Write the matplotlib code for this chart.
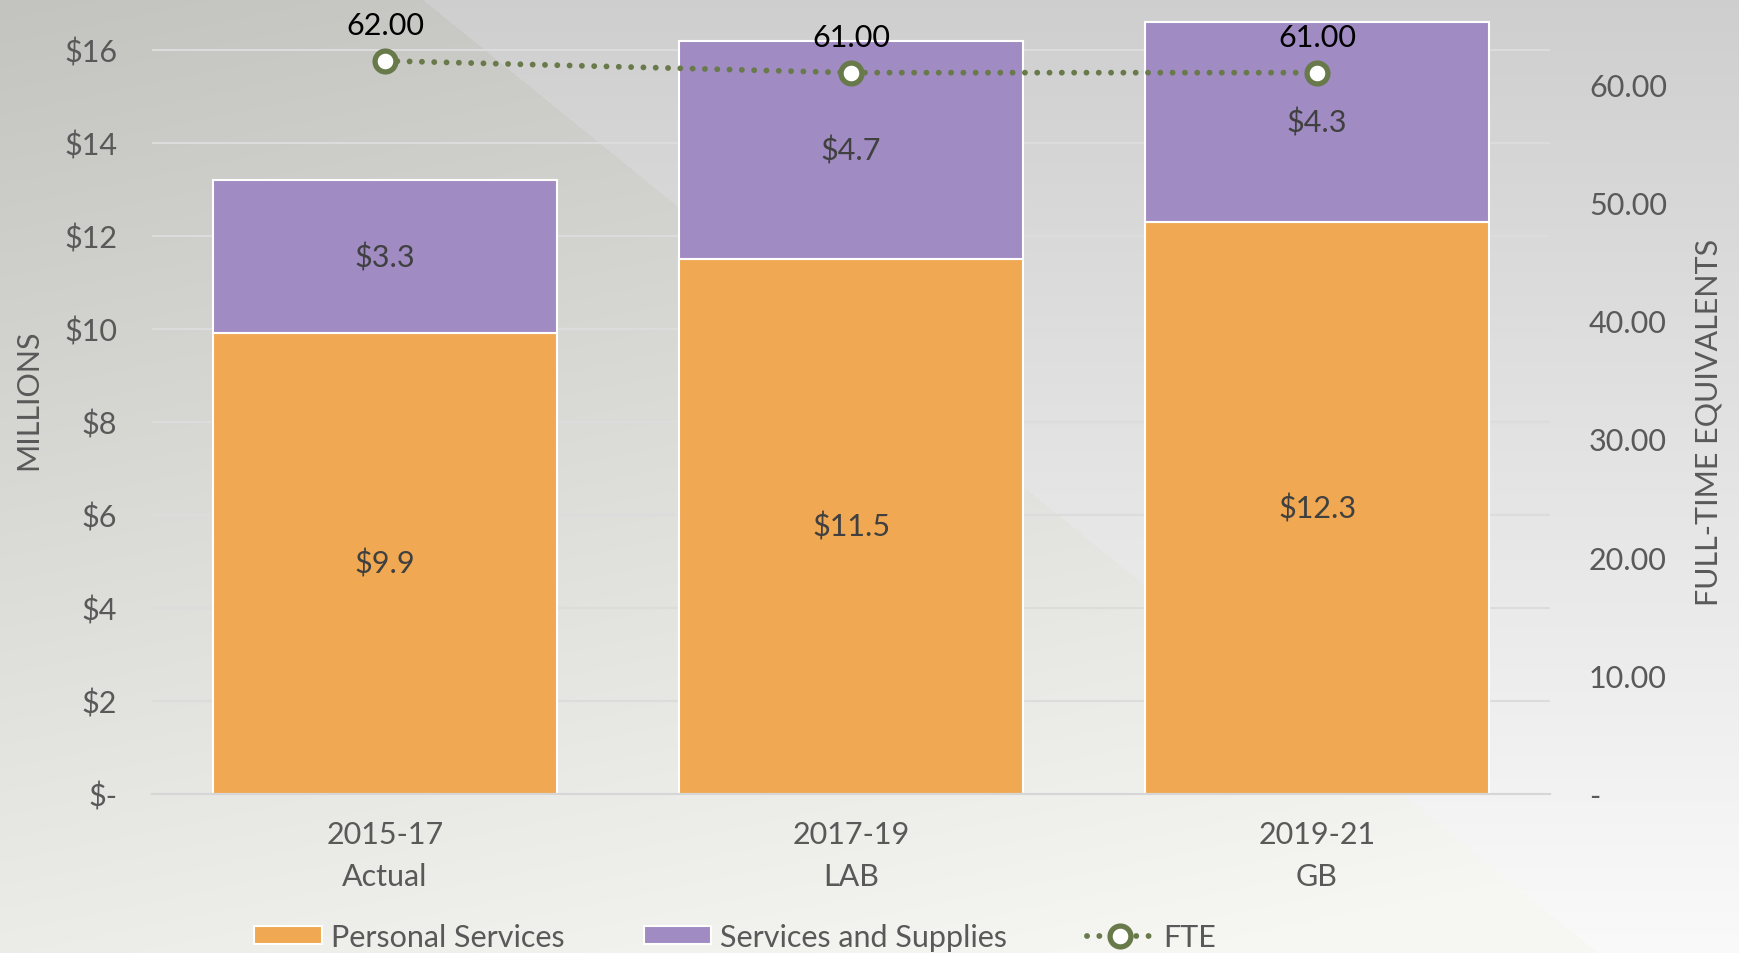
import numpy as np
import matplotlib.pyplot as plt
from matplotlib.ticker import FuncFormatter

# data
categories = ['2015-17\nActual', '2017-19\nLAB', '2019-21\nGB']
personal_services = [9.9, 11.5, 12.3]
services_supplies = [3.3, 4.7, 4.3]
fte = [62.00, 61.00, 61.00]

plt.rcParams['font.family'] = ['Lato', 'DejaVu Sans']
fs = 22

W, H = 1740, 954
fig = plt.figure(figsize=(W / 100, H / 100), dpi=100)

# slide-like background: two grey gradients split by a diagonal
bg = fig.add_axes([0, 0, 1, 1], zorder=-5)
yy, xx = np.mgrid[0:H, 0:W]
left_part = 0.765 + 0.20 * np.clip(0.8 * yy / H + 0.3 * xx / W, 0, 1)
right_part = 0.81 + 0.17 * yy / H
right_of_line = xx > 422 + yy * (1176 / 954)
val = np.where(right_of_line, right_part, left_part)
img = np.dstack([val, val, val * np.where(right_of_line, 1.0, 0.985)])
bg.imshow(np.clip(img, 0, 1), aspect='auto', extent=(0, 1, 0, 1), origin='upper')
bg.set_axis_off()

ax = fig.add_axes([152 / W, 1 - 794.5 / H, (1550 - 152) / W, (794.5 + 32.7) / H])
ax.set_facecolor('none')
x = np.arange(len(categories))
b1 = ax.bar(x, personal_services, 0.74, color='#f0a952', edgecolor='white', linewidth=1.5,
            label='Personal Services', zorder=2)
b2 = ax.bar(x, services_supplies, 0.74, bottom=personal_services, color='#a08bc2',
            edgecolor='white', linewidth=1.5, label='Services and Supplies', zorder=2)
ax.bar_label(b1, fmt='${:.1f}', label_type='center', fontsize=fs, color='#404040')
ax.bar_label(b2, fmt='${:.1f}', label_type='center', fontsize=fs, color='#404040')

ax.set_xlim(-0.5, 2.5)
ax.set_ylim(0, 17.8)
ax.set_yticks(np.arange(0, 17, 2))
ax.yaxis.set_major_formatter(FuncFormatter(lambda v, p: '$-' if v == 0 else '${:.0f}'.format(v)))
ax.set_xticks(x)
ax.set_xticklabels(categories, linespacing=1.6)
ax.tick_params(axis='both', length=0, labelsize=fs, labelcolor='#595959')
ax.tick_params(axis='y', pad=25)
ax.tick_params(axis='x', pad=19)
ax.grid(axis='y', color='#dcdcdc', linewidth=1.5, zorder=0)
ax.set_axisbelow(True)
for s in ['top', 'right', 'left']:
    ax.spines[s].set_visible(False)
ax.spines['bottom'].set_color('#d6d6d6')
ax.spines['bottom'].set_linewidth(1.5)

ax2 = ax.twinx()
ax2.set_ylim(0, 70)
ax2.set_yticks(np.arange(0, 61, 10))
ax2.yaxis.set_major_formatter(FuncFormatter(lambda v, p: '-' if v == 0 else '{:.2f}'.format(v)))
ax2.tick_params(axis='y', length=0, labelsize=fs, labelcolor='#595959', pad=28)
for s in ax2.spines.values():
    s.set_visible(False)
line, = ax2.plot(x, fte, color='#68794a', linestyle=(0, (0.01, 2.1)), linewidth=4.2,
                 dash_capstyle='round', marker='o', markersize=15, markerfacecolor='white',
                 markeredgecolor='#68794a', markeredgewidth=3.8, label='FTE', zorder=5)
for xi, v in zip(x, fte):
    ax2.annotate('{:.2f}'.format(v), (xi, v), xytext=(0, 26), textcoords='offset points',
                 ha='center', va='center', fontsize=fs, color='black')

fig.text(28 / W, 1 - 400 / H, 'MILLIONS', rotation=90, ha='center', va='center',
         fontsize=fs, color='#595959')
fig.text(1709 / W, 1 - 422 / H, 'FULL-TIME EQUIVALENTS', rotation=90, ha='center',
         va='center', fontsize=fs, color='#595959')

fig.legend(handles=[b1, b2, line], loc='center', bbox_to_anchor=(735 / W, 1 - 938 / H),
           ncol=3, frameon=False, fontsize=fs, labelcolor='#595959', handlelength=2.2,
           handleheight=0.55, columnspacing=2.6, handletextpad=0.3)

fig.savefig('out.png', dpi=100)
